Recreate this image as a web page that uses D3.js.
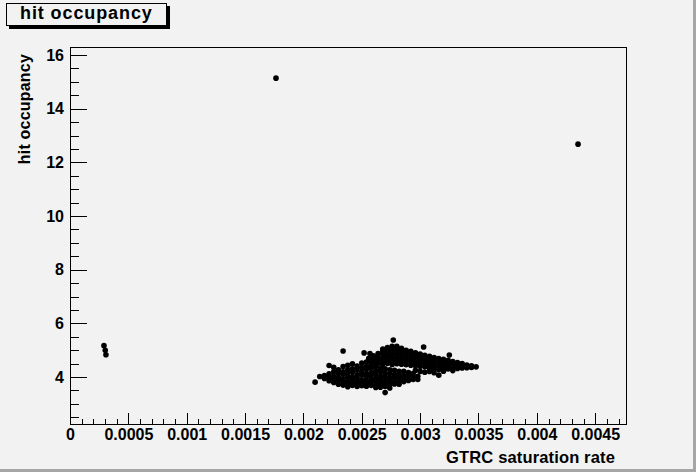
<!DOCTYPE html>
<html>
<head>
<meta charset="utf-8">
<script src="https://cdn.jsdelivr.net/npm/d3@7"></script>
<style>
  body { margin: 0; background: #f2f2f2; }
  text { font-family: "Liberation Sans", Arial, sans-serif; font-weight: bold; fill: #000; }
</style>
</head>
<body>
<script>
var svgWidth = 696;
var svgHeight = 472;

// frame of the plot area (pixels)
var frame = { left: 70, right: 626.7, top: 47, bottom: 424 };

// axis tick labels
var xTickValues = [0, 0.0005, 0.001, 0.0015, 0.002, 0.0025, 0.003, 0.0035, 0.004, 0.0045];
var yTickValues = [4, 6, 8, 10, 12, 14, 16];

// isolated points
var outX = [0.000291, 0.000302, 0.000308, 0.001765, 0.004353, 0.00210, 0.00234, 0.00252,
            0.00257, 0.00277, 0.00303, 0.00325, 0.00316, 0.00270, 0.00274];
var outY = [5.17, 5.00, 4.83, 15.14, 12.68, 3.81, 4.97, 4.90,
            4.88, 5.38, 5.12, 4.82, 4.07, 3.42, 3.59];

// lower band of the cluster: one x per column, the y values read in that column
var lowX = [0.00214, 0.00218, 0.00222, 0.00226, 0.00230, 0.00234, 0.00238, 0.00242,
            0.00246, 0.00250, 0.00254, 0.00258, 0.00262, 0.00266, 0.00270, 0.00274,
            0.00278, 0.00282, 0.00286, 0.00290, 0.00294, 0.00298];
var lowY = [
  [4.02],
  [4.06, 3.95],
  [4.12, 3.97, 3.86, 4.43],
  [4.20, 4.03, 3.93, 3.80, 4.36],
  [4.27, 4.14, 3.99, 3.87, 3.73],
  [4.39, 4.20, 4.10, 3.93, 3.83, 3.70],
  [4.44, 4.27, 4.11, 4.00, 3.84, 3.76, 3.64],
  [4.49, 4.31, 4.18, 4.00, 3.91, 3.77, 3.69],
  [4.41, 4.26, 4.08, 3.97, 3.82, 3.73, 3.65],
  [4.52, 4.35, 4.19, 4.08, 3.90, 3.81, 3.68],
  [4.56, 4.40, 4.29, 4.12, 4.01, 3.86, 3.77, 3.66],
  [4.45, 4.33, 4.16, 4.05, 3.90, 3.81, 3.69],
  [4.39, 4.22, 4.11, 3.95, 3.85, 3.70, 3.61],
  [4.33, 4.21, 4.04, 3.95, 3.80, 3.71, 3.62],
  [4.31, 4.14, 4.03, 3.87, 3.77, 3.65],
  [4.27, 4.13, 3.97, 3.87, 3.73],
  [4.25, 4.09, 3.97, 3.83, 3.74],
  [4.21, 4.09, 3.93, 3.83, 3.73],
  [4.21, 4.05, 3.95, 3.83],
  [4.17, 4.05, 3.91, 3.87],
  [4.13, 3.99, 3.91],
  [4.03, 3.91]
];

// upper band ("tongue") of the cluster
var upX = [0.00256, 0.00260, 0.00264, 0.00268, 0.00272, 0.00276, 0.00280, 0.00284,
           0.00288, 0.00292, 0.00296, 0.00300, 0.00304, 0.00308, 0.00312, 0.00316,
           0.00320, 0.00324, 0.00328, 0.00332, 0.00336, 0.00340, 0.00344, 0.00348];
var upY = [
  [4.61, 4.70],
  [4.55, 4.67, 4.79],
  [4.51, 4.63, 4.74, 4.88],
  [4.48, 4.61, 4.72, 4.86, 4.97, 5.04],
  [4.51, 4.62, 4.75, 4.86, 4.99, 5.10],
  [4.47, 4.60, 4.73, 4.84, 4.97, 5.08, 5.15],
  [4.50, 4.63, 4.74, 4.87, 4.98, 5.10, 5.15],
  [4.48, 4.59, 4.72, 4.85, 4.96, 5.07],
  [4.46, 4.58, 4.71, 4.82, 4.94, 5.00],
  [4.44, 4.57, 4.68, 4.81, 4.92, 4.96],
  [4.42, 4.54, 4.67, 4.78, 4.90, 4.25],
  [4.40, 4.53, 4.64, 4.76, 4.86, 4.21],
  [4.38, 4.50, 4.63, 4.74, 4.81, 4.18],
  [4.34, 4.47, 4.58, 4.70, 4.77, 4.21],
  [4.30, 4.42, 4.55, 4.66, 4.73, 4.16],
  [4.28, 4.40, 4.52, 4.64, 4.69],
  [4.22, 4.31, 4.42, 4.55, 4.66],
  [4.30, 4.43, 4.54, 4.62],
  [4.24, 4.33, 4.44, 4.52, 4.58],
  [4.32, 4.43, 4.54],
  [4.34, 4.44, 4.50],
  [4.35, 4.45],
  [4.36, 4.42],
  [4.38]
];

// flatten everything into [x, y] pairs
var points = [];
outX.forEach((x, i) => points.push([x, outY[i]]));
lowX.forEach((x, i) => lowY[i].forEach(y => points.push([x, y])));
upX.forEach((x, i) => upY[i].forEach(y => points.push([x, y])));

var svg = d3.select("body")
  .append("svg")
  .attr("width", svgWidth)
  .attr("height", svgHeight);

// canvas background + bevel on right/bottom
svg.append("rect").attr("width", svgWidth).attr("height", svgHeight).attr("fill", "#f2f2f2");
svg.append("rect").attr("x", 0).attr("y", svgHeight - 3).attr("width", svgWidth).attr("height", 3).attr("fill", "#a6a6a6");
svg.append("rect").attr("x", svgWidth - 3).attr("y", 0).attr("width", 3).attr("height", svgHeight).attr("fill", "#a6a6a6");

var xScale = d3.scaleLinear()
  .domain([0, 0.00477])
  .range([frame.left, frame.right]);

var yScale = d3.scaleLinear()
  .domain([2.25, 16.3])
  .range([frame.bottom, frame.top]);

// minor ticks
var xMinor = d3.axisBottom(xScale)
  .tickValues(d3.range(0, 0.00477, 0.0001))
  .tickSize(-5.5).tickSizeOuter(0).tickFormat("");
svg.append("g")
  .attr("transform", `translate(0, ${frame.bottom})`)
  .attr("shape-rendering", "crispEdges")
  .call(xMinor)
  .call(g => g.select(".domain").remove());

var yMinor = d3.axisLeft(yScale)
  .tickValues(d3.range(2.5, 16.3, 0.5))
  .tickSize(-8.5).tickSizeOuter(0).tickFormat("");
svg.append("g")
  .attr("transform", `translate(${frame.left}, 0)`)
  .attr("shape-rendering", "crispEdges")
  .call(yMinor)
  .call(g => g.select(".domain").remove());

// major ticks with labels
var xAxis = d3.axisBottom(xScale)
  .tickValues(xTickValues)
  .tickSize(-10.7).tickSizeOuter(0).tickPadding(4.6)
  .tickFormat(d => String(+d.toFixed(4)));
svg.append("g")
  .attr("transform", `translate(0, ${frame.bottom})`)
  .attr("shape-rendering", "crispEdges")
  .call(xAxis)
  .call(g => g.select(".domain").remove())
  .call(g => g.selectAll("text")
    .attr("font-family", "Liberation Sans, Arial, sans-serif")
    .attr("font-size", 16).attr("font-weight", "bold").attr("fill", "#000"));

var yAxis = d3.axisLeft(yScale)
  .tickValues(yTickValues)
  .tickSize(-17).tickSizeOuter(0).tickPadding(6);
svg.append("g")
  .attr("transform", `translate(${frame.left}, 0)`)
  .attr("shape-rendering", "crispEdges")
  .call(yAxis)
  .call(g => g.select(".domain").remove())
  .call(g => g.selectAll("text")
    .attr("font-family", "Liberation Sans, Arial, sans-serif")
    .attr("font-size", 16).attr("font-weight", "bold").attr("fill", "#000"));

// frame
svg.append("rect")
  .attr("x", frame.left).attr("y", frame.top)
  .attr("width", frame.right - frame.left).attr("height", frame.bottom - frame.top)
  .attr("fill", "none").attr("stroke", "#000").attr("stroke-width", 1)
  .attr("shape-rendering", "crispEdges");

// points
svg.append("g").selectAll("circle")
  .data(points)
  .enter().append("circle")
  .attr("cx", d => xScale(d[0]))
  .attr("cy", d => yScale(d[1]))
  .attr("r", 2.8)
  .attr("fill", "#000");

// axis titles
svg.append("text")
  .attr("x", 615).attr("y", 463)
  .attr("text-anchor", "end")
  .attr("font-size", 16.5)
  .attr("letter-spacing", 0.15)
  .text("GTRC saturation rate");

svg.append("text")
  .attr("transform", "translate(30, 54) rotate(-90)")
  .attr("text-anchor", "end")
  .attr("font-size", 16)
  .attr("letter-spacing", 0.2)
  .text("hit occupancy");

// title box with shadow
svg.append("rect").attr("x", 9).attr("y", 6).attr("width", 161).attr("height", 23).attr("fill", "#000");
svg.append("rect").attr("x", 6.5).attr("y", 3.5).attr("width", 160).attr("height", 22)
  .attr("fill", "#f2f2f2").attr("stroke", "#000").attr("stroke-width", 1);
svg.append("text")
  .attr("x", 20).attr("y", 19)
  .attr("font-size", 18)
  .attr("letter-spacing", 0.9)
  .text("hit occupancy");
</script>
</body>
</html>
